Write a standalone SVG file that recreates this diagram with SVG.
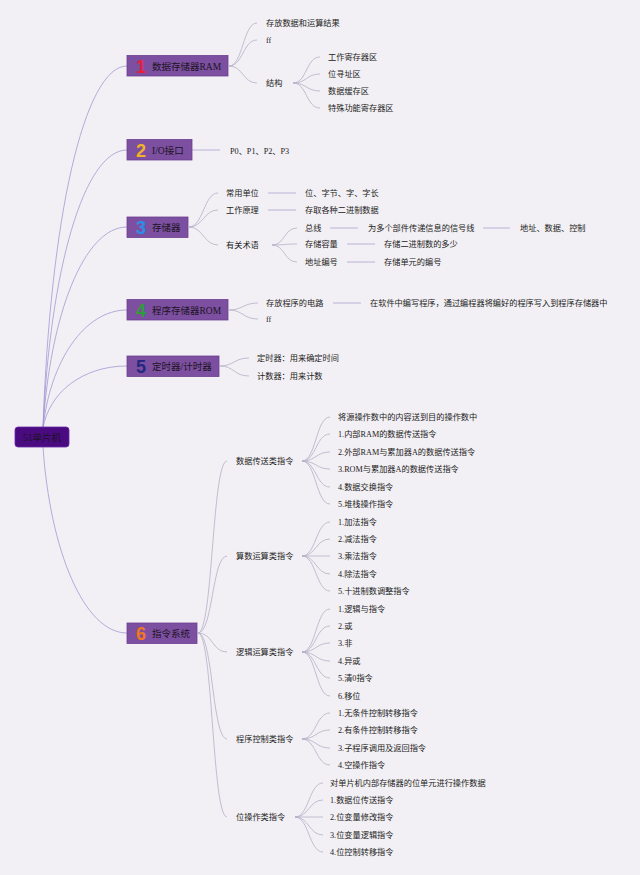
<svg xmlns="http://www.w3.org/2000/svg" width="640" height="875" viewBox="0 0 640 875">
<style>
.bg{fill:#f2f0f4}
.c{fill:none;stroke:#b6aec8;stroke-width:0.8}
.cr{fill:none;stroke:#a498d4;stroke-width:0.8}
.ln{fill:none;stroke:#aaa2d0;stroke-width:0.8}
.box{fill:#7d4fa0;stroke:#6b3f8e;stroke-width:0.8}
.root{fill:#4a0a80;stroke:#6a2aa8;stroke-width:0.8}
.nl{font-family:"Liberation Serif","Noto Sans CJK SC",serif;font-size:9.5px;fill:#1c1424}
.t{font-family:"Liberation Serif","Noto Sans CJK SC",serif;font-size:8.2px;fill:#222}
.num{font-family:"Liberation Sans",Arial,sans-serif;font-size:18px;font-weight:bold;text-anchor:middle}
</style>
<rect class="bg" x="0" y="0" width="640" height="875"/>
<g id="connectors">
<path class="cr" d="M43,428 C50,220 84,66 127,66"/>
<path class="cr" d="M43,428 C50,270 84,150 127,150"/>
<path class="cr" d="M43,428 C50,315 84,227 127,227"/>
<path class="cr" d="M43,428 C50,362 84,310 127,310"/>
<path class="cr" d="M43,428 C49,393 82,366 127,366"/>
<path class="cr" d="M43,447 C50,550 84,633 127,633"/>
<path class="c" d="M229,66 C243,66 243,23 257,23"/>
<path class="c" d="M229,66 C243,66 243,40 257,40"/>
<path class="c" d="M229,66 C243,66 243,83 257,83"/>
<path class="c" d="M293,83 C307,83 306,57 320,57"/>
<path class="c" d="M293,83 C307,83 306,74 320,74"/>
<path class="c" d="M293,83 C307,83 306,91 320,91"/>
<path class="c" d="M293,83 C307,83 306,108 320,108"/>
<path class="ln" d="M192,150 L220,150"/>
<path class="c" d="M189,227 C203,227 204,193 218,193"/>
<path class="c" d="M189,227 C203,227 204,210 218,210"/>
<path class="c" d="M189,227 C203,227 204,245 218,245"/>
<path class="ln" d="M268,193 L296,193"/>
<path class="ln" d="M268,210 L296,210"/>
<path class="c" d="M272,245 C285,245 284,228 297,228"/>
<path class="c" d="M272,245 C285,245 284,244 297,244"/>
<path class="c" d="M272,245 C285,245 284,262 297,262"/>
<path class="ln" d="M330,228 L358,228"/>
<path class="ln" d="M483,228 L510,228"/>
<path class="ln" d="M347,244 L375,244"/>
<path class="ln" d="M347,262 L375,262"/>
<path class="c" d="M229,310 C243,310 243,303 258,303"/>
<path class="c" d="M229,310 C243,310 243,319 258,319"/>
<path class="ln" d="M333,303 L361,303"/>
<path class="c" d="M220,366 C234,366 234,358 249,358"/>
<path class="c" d="M220,366 C234,366 234,376 249,376"/>
<path class="c" d="M198,633 C213,633 212,461 227,461"/>
<path class="c" d="M198,633 C213,633 212,556 227,556"/>
<path class="c" d="M198,633 C213,633 212,652 227,652"/>
<path class="c" d="M198,633 C213,633 212,739 227,739"/>
<path class="c" d="M198,633 C213,633 212,817 227,817"/>
<path class="c" d="M302,461 C316,461 316,417 330,417"/>
<path class="c" d="M302,461 C316,461 316,434 330,434"/>
<path class="c" d="M302,461 C316,461 316,452 330,452"/>
<path class="c" d="M302,461 C316,461 316,469 330,469"/>
<path class="c" d="M302,461 C316,461 316,487 330,487"/>
<path class="c" d="M302,461 C316,461 316,504 330,504"/>
<path class="c" d="M302,556 C316,556 316,522 330,522"/>
<path class="c" d="M302,556 C316,556 316,539 330,539"/>
<path class="c" d="M302,556 C316,556 316,556 330,556"/>
<path class="c" d="M302,556 C316,556 316,574 330,574"/>
<path class="c" d="M302,556 C316,556 316,591 330,591"/>
<path class="c" d="M302,652 C316,652 316,609 330,609"/>
<path class="c" d="M302,652 C316,652 316,626 330,626"/>
<path class="c" d="M302,652 C316,652 316,643 330,643"/>
<path class="c" d="M302,652 C316,652 316,661 330,661"/>
<path class="c" d="M302,652 C316,652 316,678 330,678"/>
<path class="c" d="M302,652 C316,652 316,696 330,696"/>
<path class="c" d="M302,739 C316,739 316,713 330,713"/>
<path class="c" d="M302,739 C316,739 316,730 330,730"/>
<path class="c" d="M302,739 C316,739 316,748 330,748"/>
<path class="c" d="M302,739 C316,739 316,765 330,765"/>
<path class="c" d="M295,817 C309,817 309,783 323,783"/>
<path class="c" d="M295,817 C309,817 309,800 323,800"/>
<path class="c" d="M295,817 C309,817 309,817 323,817"/>
<path class="c" d="M295,817 C309,817 309,835 323,835"/>
<path class="c" d="M295,817 C309,817 309,852 323,852"/>
</g>
<g id="root">
<rect class="root" x="15" y="427" width="54" height="20" rx="3"/>
<text class="nl" x="42" y="440.5" text-anchor="middle" fill="#1e0a34">51单片机</text>
</g>
<g id="n1">
<rect class="box" x="127" y="55.5" width="101" height="20.5"/>
<text class="num" x="141" y="72.5" fill="#e8203c">1</text>
<text class="nl" x="152" y="69.5">数据存储器RAM</text>
</g>
<g id="n1-children">
<text class="t" x="266" y="26">存放数据和运算结果</text>
<text class="t" x="266" y="43">ff</text>
<text class="t" x="266" y="86">结构</text>
<text class="t" x="328" y="60">工作寄存器区</text>
<text class="t" x="328" y="77">位寻址区</text>
<text class="t" x="328" y="94">数据缓存区</text>
<text class="t" x="328" y="111">特殊功能寄存器区</text>
</g>
<g id="n2">
<rect class="box" x="127" y="139.5" width="65" height="20.5"/>
<text class="num" x="141" y="156.5" fill="#f2b424">2</text>
<text class="nl" x="152" y="153.5">I/O接口</text>
</g>
<g id="n2-children">
<text class="t" x="230" y="154">P0、P1、P2、P3</text>
</g>
<g id="n3">
<rect class="box" x="127" y="217" width="61" height="20.5"/>
<text class="num" x="141" y="234" fill="#2a90e6">3</text>
<text class="nl" x="152" y="231">存储器</text>
</g>
<g id="n3-children">
<text class="t" x="226" y="196">常用单位</text>
<text class="t" x="226" y="213">工作原理</text>
<text class="t" x="226" y="248">有关术语</text>
<text class="t" x="305" y="196">位、字节、字、字长</text>
<text class="t" x="305" y="213">存取各种二进制数据</text>
<text class="t" x="305" y="231">总线</text>
<text class="t" x="305" y="247">存储容量</text>
<text class="t" x="305" y="265">地址编号</text>
<text class="t" x="368" y="231">为多个部件传递信息的信号线</text>
<text class="t" x="520" y="231">地址、数据、控制</text>
<text class="t" x="384" y="247">存储二进制数的多少</text>
<text class="t" x="384" y="265">存储单元的编号</text>
</g>
<g id="n4">
<rect class="box" x="127" y="299.5" width="101" height="20.5"/>
<text class="num" x="141" y="316.5" fill="#2e9c3c">4</text>
<text class="nl" x="152" y="313.5">程序存储器ROM</text>
</g>
<g id="n4-children">
<text class="t" x="266" y="306">存放程序的电路</text>
<text class="t" x="266" y="322">ff</text>
<text class="t" x="370" y="306">在软件中编写程序，通过编程器将编好的程序写入到程序存储器中</text>
</g>
<g id="n5">
<rect class="box" x="127" y="356" width="92" height="20.5"/>
<text class="num" x="141" y="373" fill="#24287e">5</text>
<text class="nl" x="152" y="370">定时器/计时器</text>
</g>
<g id="n5-children">
<text class="t" x="257" y="361">定时器：用来确定时间</text>
<text class="t" x="257" y="379">计数器：用来计数</text>
</g>
<g id="n6">
<rect class="box" x="127" y="623" width="70" height="20.5"/>
<text class="num" x="141" y="640" fill="#f2761e">6</text>
<text class="nl" x="152" y="637">指令系统</text>
</g>
<g id="n6-children">
<text class="t" x="236" y="464">数据传送类指令</text>
<text class="t" x="236" y="559">算数运算类指令</text>
<text class="t" x="236" y="655">逻辑运算类指令</text>
<text class="t" x="236" y="742">程序控制类指令</text>
<text class="t" x="236" y="820">位操作类指令</text>
<text class="t" x="338" y="420">将源操作数中的内容送到目的操作数中</text>
<text class="t" x="338" y="437">1.内部RAM的数据传送指令</text>
<text class="t" x="338" y="455">2.外部RAM与累加器A的数据传送指令</text>
<text class="t" x="338" y="472">3.ROM与累加器A的数据传送指令</text>
<text class="t" x="338" y="490">4.数据交换指令</text>
<text class="t" x="338" y="507">5.堆栈操作指令</text>
<text class="t" x="338" y="525">1.加法指令</text>
<text class="t" x="338" y="542">2.减法指令</text>
<text class="t" x="338" y="559">3.乘法指令</text>
<text class="t" x="338" y="577">4.除法指令</text>
<text class="t" x="338" y="594">5.十进制数调整指令</text>
<text class="t" x="338" y="612">1.逻辑与指令</text>
<text class="t" x="338" y="629">2.或</text>
<text class="t" x="338" y="646">3.非</text>
<text class="t" x="338" y="664">4.异或</text>
<text class="t" x="338" y="681">5.清0指令</text>
<text class="t" x="338" y="699">6.移位</text>
<text class="t" x="338" y="716">1.无条件控制转移指令</text>
<text class="t" x="338" y="733">2.有条件控制转移指令</text>
<text class="t" x="338" y="751">3.子程序调用及返回指令</text>
<text class="t" x="338" y="768">4.空操作指令</text>
<text class="t" x="330" y="786">对单片机内部存储器的位单元进行操作数据</text>
<text class="t" x="330" y="803">1.数据位传送指令</text>
<text class="t" x="330" y="820">2.位变量修改指令</text>
<text class="t" x="330" y="838">3.位变量逻辑指令</text>
<text class="t" x="330" y="855">4.位控制转移指令</text>
</g>
</svg>
